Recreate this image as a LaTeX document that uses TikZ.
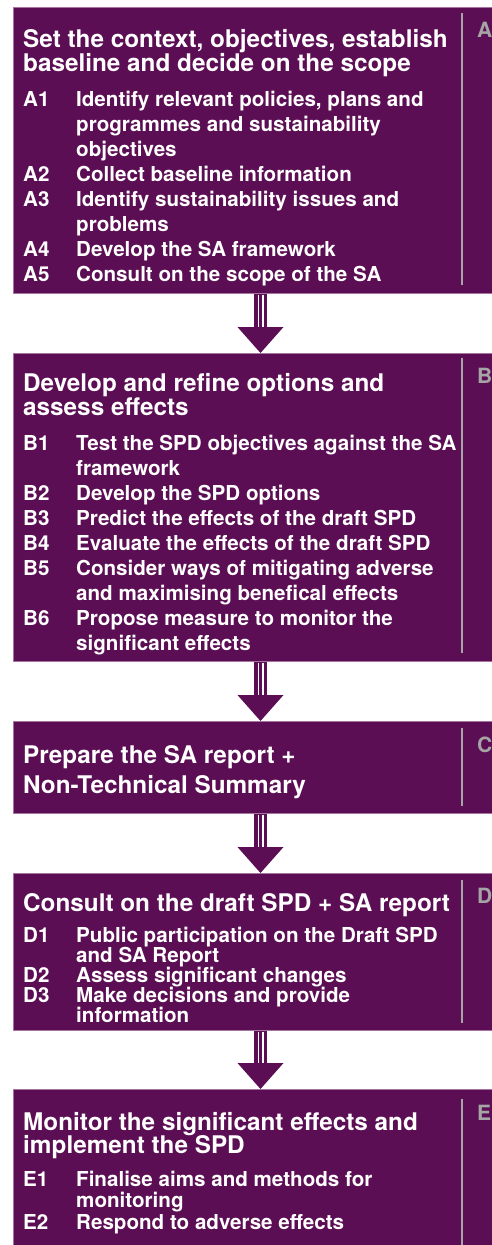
\documentclass[tikz,border=0pt]{standalone}
\usepackage{fontspec}
\setmainfont{TeX Gyre Heros}
\usetikzlibrary{calc}

\definecolor{plum}{RGB}{92,14,84}
\definecolor{plumedge}{RGB}{165,115,160}
\definecolor{rulegrey}{RGB}{165,165,165}

% fixed baseline grid inside multi-line nodes
\newcommand\tightlines{\lineskiplimit=-100pt\lineskip=0pt}
\newcommand\ts{\rule{0pt}{20pt}}
% numbered step and its continuation line
\newcommand\sitem[2]{\makebox[53pt][l]{#1}#2}
\newcommand\scont[1]{\hspace*{53pt}#1}

% double-ruled block arrow from one stage to the next
\newcommand\flowarrow[2]{%
  \fill[plum] ($(#1.south -| ax)+(-6.5,0)$) rectangle ($(#2.north -| ax)+(6.5,-25)$);
  \draw[shaftgap] ($(#1.south -| ax)+(-2.2,0.8)$) -- ($(#2.north -| ax)+(-2.2,-25.5)$);
  \draw[shaftgap] ($(#1.south -| ax)+(2.2,0.8)$) -- ($(#2.north -| ax)+(2.2,-25.5)$);
  \fill[plum] (#2.north -| ax) -- ++(-23,-26) -- ++(46,0) -- cycle;
}

\tikzset{
  stage/.style={draw=plumedge, line width=0.8pt, fill=plum, anchor=north west,
    minimum width=490pt, inner sep=0pt},
  heading/.style={anchor=north west, inner sep=0pt, align=left, text=white,
    font=\tightlines\bfseries\fontsize{24.3}{#1}\selectfont},
  heading/.default=24,
  steps/.style={anchor=north west, inner sep=0pt, align=left, text=white,
    font=\tightlines\bfseries\fontsize{20.6}{#1}\selectfont},
  steps/.default=25,
  tag/.style={anchor=base west, inner sep=0pt, text=rulegrey,
    font=\bfseries\fontsize{21}{21}\selectfont},
  divider/.style={draw=rulegrey, line width=2.6pt},
  shaftgap/.style={draw=white, line width=1.6pt},
}

\begin{document}
\begin{tikzpicture}[x=1pt, y=-1pt]
\useasboundingbox (0,0) rectangle (492,1245);
\clip (0,0) rectangle (492,1245);
\fill[white] (0,0) rectangle (492,1245);
\coordinate (ax) at (260.5,0);

% ---- Stage A
\node[stage, minimum height=286pt] (A) at (13,7) {};
\draw[divider] (462,13) -- (462,285);
\node[tag] (A-tag) at (477,37) {A};
\node[heading] (A-head) at (23,27) {\ts Set the context, objectives, establish\\
  baseline and decide on the scope};
\node[steps] (A-steps) at (23,86.5) {\ts\sitem{A1}{Identify relevant policies, plans and}\\
  \scont{programmes and sustainability}\\
  \scont{objectives}\\
  \sitem{A2}{Collect baseline information}\\
  \sitem{A3}{Identify sustainability issues and}\\
  \scont{problems}\\
  \sitem{A4}{Develop the SA framework}\\
  \sitem{A5}{Consult on the scope of the SA}};

% ---- Stage B
\node[stage, minimum height=308pt] (B) at (13,353) {};
\draw[divider] (462,358) -- (462,653);
\node[tag] (B-tag) at (477,383) {B};
\node[heading] (B-head) at (23,371) {\ts Develop and refine options and\\
  assess effects};
\node[steps] (B-steps) at (23,430) {\ts\sitem{B1}{Test the SPD objectives against the SA}\\
  \scont{framework}\\
  \sitem{B2}{Develop the SPD options}\\
  \sitem{B3}{Predict the effects of the draft SPD}\\
  \sitem{B4}{Evaluate the effects of the draft SPD}\\
  \sitem{B5}{Consider ways of mitigating adverse}\\
  \scont{and maximising benefical effects}\\
  \sitem{B6}{Propose measure to monitor the}\\
  \scont{significant effects}};

% ---- Stage C
\node[stage, minimum height=92pt] (C) at (13,721) {};
\draw[divider] (462,728) -- (462,806);
\node[tag] (C-tag) at (477,752) {C};
\node[heading=30] (C-head) at (23,743) {\ts Prepare the SA report +\\
  Non-Technical Summary};

% ---- Stage D
\node[stage, minimum height=157pt] (D) at (13,873) {};
\draw[divider] (462,880) -- (462,1023);
\node[tag] (D-tag) at (477,903) {D};
\node[heading] (D-head) at (23,891) {\ts Consult on the draft SPD + SA report};
\node[steps=20] (D-steps) at (23,922) {\ts\sitem{D1}{Public participation on the Draft SPD}\\
  \scont{and SA Report}\\
  \sitem{D2}{Assess significant changes}\\
  \sitem{D3}{Make decisions and provide}\\
  \scont{information}};

% ---- Stage E
\node[stage, minimum height=180pt] (E) at (13,1089) {};
\draw[divider] (462,1099) -- (462,1260);
\node[tag] (E-tag) at (477,1120) {E};
\node[heading=23] (E-head) at (23,1110) {\ts Monitor the significant effects and\\
  implement the SPD};
\node[steps=21.5] (E-steps) at (23,1166) {\ts\sitem{E1}{Finalise aims and methods for}\\
  \scont{monitoring}\\
  \sitem{E2}{Respond to adverse effects}};

% ---- flow between stages
\flowarrow{A}{B}
\flowarrow{B}{C}
\flowarrow{C}{D}
\flowarrow{D}{E}
\end{tikzpicture}
\end{document}
